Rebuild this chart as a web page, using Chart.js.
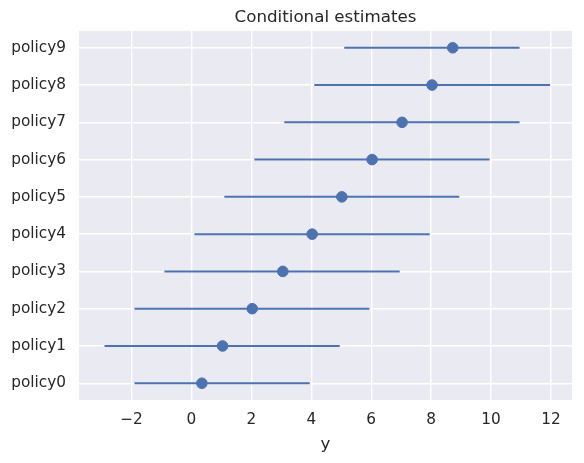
<!DOCTYPE html>
<html>
<head>
<meta charset="utf-8">
<script src="https://cdn.jsdelivr.net/npm/chart.js@4/dist/chart.umd.min.js"></script>
<style>
  html, body { margin: 0; padding: 0; background: #fff; }
  #wrap { width: 584px; height: 463px; }
</style>
</head>
<body>
<div id="wrap"><canvas id="chart" width="584" height="463"></canvas></div>
<script>
// categories (bottom to top) and estimates
const policies = ['policy0', 'policy1', 'policy2', 'policy3', 'policy4',
                  'policy5', 'policy6', 'policy7', 'policy8', 'policy9'];
const estimates = [0.35, 1.04, 2.03, 3.05, 4.03, 5.02, 6.03, 7.03, 8.03, 8.72];
const lowerBounds = [-1.9, -2.9, -1.9, -0.9, 0.1, 1.1, 2.1, 3.1, 4.1, 5.1];
const upperBounds = [3.95, 4.95, 5.94, 6.95, 7.95, 8.94, 9.95, 10.95, 11.97, 10.95];
const xTicks = [-2, 0, 2, 4, 6, 8, 10, 12];
const chartTitle = 'Conditional estimates';

const blue = '#4C72B0';
const textColor = '#262626';
const font = 'DejaVu Sans';

// grey panel behind the plot, seaborn darkgrid style
const panelBg = {
  id: 'panelBg',
  beforeDraw(chart) {
    const { ctx, chartArea: a } = chart;
    ctx.save();
    ctx.fillStyle = '#EAEAF2';
    ctx.fillRect(a.left, a.top, a.right - a.left, a.bottom - a.top);
    ctx.restore();
  }
};

// title centred over the plot area (matplotlib style), not the canvas
const axesTitle = {
  id: 'axesTitle',
  afterDraw(chart) {
    const { ctx, chartArea: a } = chart;
    ctx.save();
    ctx.fillStyle = textColor;
    ctx.font = '16.7px "' + font + '"';
    ctx.textAlign = 'center';
    ctx.textBaseline = 'middle';
    ctx.fillText(chartTitle, (a.left + a.right) / 2, 18);
    ctx.restore();
  }
};

// one short line per policy for the interval
const intervalSets = policies.map((p, i) => ({
  type: 'line',
  data: [{ x: lowerBounds[i], y: i }, { x: upperBounds[i], y: i }],
  borderColor: blue,
  borderWidth: 2,
  pointRadius: 0,
  fill: false,
  order: 1
}));

new Chart(document.getElementById('chart'), {
  type: 'scatter',
  data: {
    datasets: [
      {
        data: estimates.map((v, i) => ({ x: v, y: i })),
        backgroundColor: blue,
        borderColor: blue,
        pointRadius: 5.3,
        pointHoverRadius: 5.3,
        order: 0
      },
      ...intervalSets
    ]
  },
  options: {
    responsive: false,
    animation: false,
    events: [],
    layout: { padding: { left: 0, right: 12, top: 31, bottom: 0 } },
    plugins: {
      legend: { display: false },
      tooltip: { enabled: false },
      title: { display: false }
    },
    scales: {
      x: {
        type: 'linear',
        min: -3.75,
        max: 12.7,
        afterBuildTicks(scale) {
          scale.ticks = xTicks.map(v => ({ value: v }));
        },
        afterFit(scale) { scale.height = 63; },
        border: { display: false },
        grid: { color: '#ffffff', lineWidth: 1.4, drawTicks: false },
        ticks: {
          padding: 11,
          color: textColor,
          font: { family: font, size: 15.3 },
          callback: v => (v < 0 ? '\u2212' + Math.abs(v) : String(v))
        },
        title: {
          display: true,
          text: 'y',
          color: textColor,
          font: { family: font, size: 16.7 },
          padding: { top: 0, bottom: 8 }
        }
      },
      y: {
        type: 'linear',
        min: -0.45,
        max: 9.45,
        afterBuildTicks(scale) {
          scale.ticks = policies.map((p, i) => ({ value: i }));
        },
        afterFit(scale) { scale.width = 79; },
        border: { display: false },
        grid: { color: '#ffffff', lineWidth: 1.4, drawTicks: false },
        ticks: {
          padding: 13,
          color: textColor,
          font: { family: font, size: 15.3 },
          callback: v => policies[v]
        }
      }
    }
  },
  plugins: [panelBg, axesTitle]
});
</script>
</body>
</html>
